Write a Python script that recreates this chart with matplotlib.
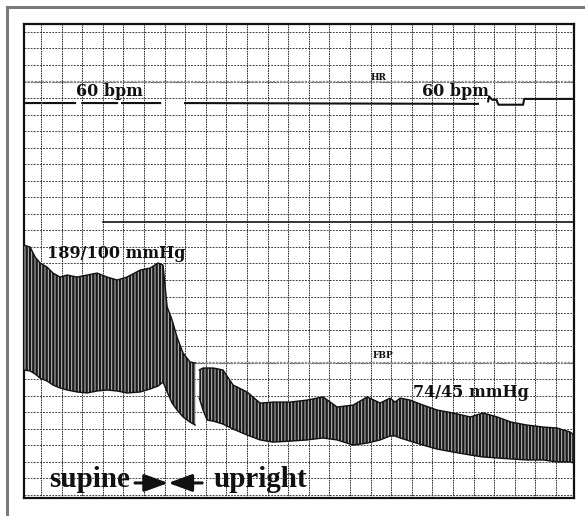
import numpy as np
import matplotlib
matplotlib.use("Agg")
import matplotlib.pyplot as plt
from matplotlib.lines import Line2D

nan = np.nan

# time axis and levels are in chart-paper divisions (one major grid square = 1)
# heart rate trace (gaps = pen lifts)
hr_t = [-0.83, -0.05, nan, 0.10, 1.65, nan, 2.00, 3.69, nan, 3.93, 5.78, nan,
        6.99, 21.21, nan, 21.70, 21.75, 21.90, 22.10, 22.20, 23.40, 23.45, 25.87]
hr_lvl = [23.70, 23.70, nan, 23.70, 23.70, nan, 23.70, 23.70, nan, 23.70, 23.70, nan,
          23.70, 23.65, nan, 23.80, 24.10, 23.90, 23.90, 23.60, 23.60, 23.95, 23.95]

# finger blood pressure: systolic (upper) and diastolic (lower) envelope
bp_t = [-0.83, -0.53, -0.29, -0.05, 0.29, 0.58, 0.92, 1.26, 1.75, 2.23, 2.72, 3.20,
        3.69, 4.17, 4.81, 5.29, 5.68, 5.92, 6.12, 6.36, 6.60, 6.89, 7.23, 7.48,
        7.58, 7.68, 7.86, 8.06, 8.35, 8.83, 9.32, 10.00, 10.63, 11.26, 12.09, 12.91,
        13.69, 14.37, 15.15, 15.83, 16.46, 16.94, 17.18, 17.43, 17.91, 18.54, 19.22,
        20.00, 20.83, 21.46, 22.14, 22.82, 23.59, 24.37, 25.05, 25.68, 25.87]
bp_sys = [15.11, 14.99, 14.39, 14.03, 13.78, 13.42, 13.18, 13.30, 13.18, 13.30, 13.42, 13.18,
          13.00, 13.18, 13.60, 13.72, 14.03, 13.90, 11.37, 10.58, 9.55, 8.59, 8.04, 7.98,
          nan, 7.56, 7.68, 7.68, 7.68, 7.56, 6.65, 6.23, 5.56, 5.62, 5.62, 5.74,
          5.93, 5.32, 5.44, 5.93, 5.56, 5.86, 5.62, 5.86, 5.74, 5.44, 5.14,
          4.96, 4.72, 4.96, 4.72, 4.41, 4.23, 4.11, 4.05, 3.81, 3.63]
bp_dia = [7.56, 7.50, 7.32, 7.07, 6.89, 6.65, 6.47, 6.35, 6.23, 6.17, 6.29, 6.35,
          6.29, 6.17, 6.23, 6.41, 6.59, 6.83, 6.23, 5.56, 5.14, 4.72, 4.41, 4.23,
          nan, 5.86, 5.14, 4.53, 4.47, 4.29, 3.99, 3.63, 3.33, 3.20, 3.26, 3.33,
          3.45, 3.33, 3.02, 3.14, 3.33, 3.57, 3.57, 3.45, 3.26, 3.02, 2.78,
          2.60, 2.42, 2.30, 2.24, 2.18, 2.12, 2.12, 2.00, 2.00, 1.93]

hr_grid_line = 25
fbp_grid_line = 8
divider_level = 16.5
divider_start = 3.0

plt.rcParams["hatch.linewidth"] = 0.7

fig = plt.figure(figsize=(5.85, 5.16), dpi=100)
ax = fig.add_axes([24 / 585, 1 - 498 / 516, 550 / 585, 474 / 516])
ax.set_xlim(-0.83, 25.87)
ax.set_ylim(-0.18, 28.48)

ax.set_xticks(np.arange(0, 26))
ax.set_yticks(np.arange(0, 29))
ax.tick_params(length=0, labelbottom=False, labelleft=False)
ax.grid(True, axis="x", color="#202020", linestyle=(0, (1.8, 0.9)), linewidth=0.65)
ax.grid(True, axis="y", color="#202020", linestyle=(0, (2.2, 1.5)), linewidth=0.6)
ax.set_axisbelow(True)
for s in ax.spines.values():
    s.set_linewidth(1.6)
    s.set_color("#111111")

# channel baselines
for lvl in (hr_grid_line, fbp_grid_line):
    ax.axhline(lvl, color="#8a8a8a", linestyle=(0, (1, 0.6)), linewidth=1.6, zorder=1)
ax.plot([divider_start, 25.87], [divider_level, divider_level], color="#111111", lw=1.2, zorder=2)

# HR trace
ax.plot(hr_t, hr_lvl, color="#111111", lw=1.5, zorder=3)

# BP trace: dense pulses rendered as striated band
ax.fill_between(bp_t, bp_dia, bp_sys, facecolor="#1a1a1a", edgecolor="#c4c4c4",
                hatch="|||||", linewidth=0, zorder=3)
ax.plot(bp_t, bp_sys, color="#111111", lw=1.0, zorder=4)
ax.plot(bp_t, bp_dia, color="#111111", lw=1.0, zorder=4)

big = dict(family="DejaVu Serif", fontweight="bold", fontsize=11.5, color="#111111")
ax.text(1.70, 24.15, "60 bpm", **big, zorder=5)
ax.text(18.50, 24.15, "60 bpm", **big, zorder=5)
ax.text(0.29, 14.33, "189/100 mmHg", **big, zorder=5)
ax.text(18.06, 5.93, "74/45 mmHg", **big, zorder=5)

small = dict(family="DejaVu Serif", fontweight="bold", fontsize=6.5, color="#111111")
ax.text(16.0, 25.12, "HR", **small, zorder=5)
ax.text(16.1, 8.30, "FBP", **small, zorder=5)

pos = dict(family="Liberation Serif", fontweight="bold", fontsize=21, color="#111111")
ax.text(0.39, 0.48, "supine", **pos, zorder=5)
ax.text(8.35, 0.48, "upright", **pos, zorder=5)
arrow = dict(arrowstyle="-|>,head_length=0.6,head_width=0.22", mutation_scale=24,
             lw=2.2, color="#111111", shrinkA=0, shrinkB=0)
ax.annotate("", xy=(6.17, 0.73), xytext=(4.56, 0.73), arrowprops=arrow, zorder=5)
ax.annotate("", xy=(6.17, 0.73), xytext=(7.82, 0.73), arrowprops=arrow, zorder=5)

# outer scan border
fig.add_artist(Line2D([7 / 585, 1], [1 - 7 / 516, 1 - 7 / 516], color="#7a7a7a", lw=2.2))
fig.add_artist(Line2D([7 / 585, 7 / 585], [0, 1 - 7 / 516], color="#7a7a7a", lw=2.2))

fig.savefig("out.png", dpi=100)
